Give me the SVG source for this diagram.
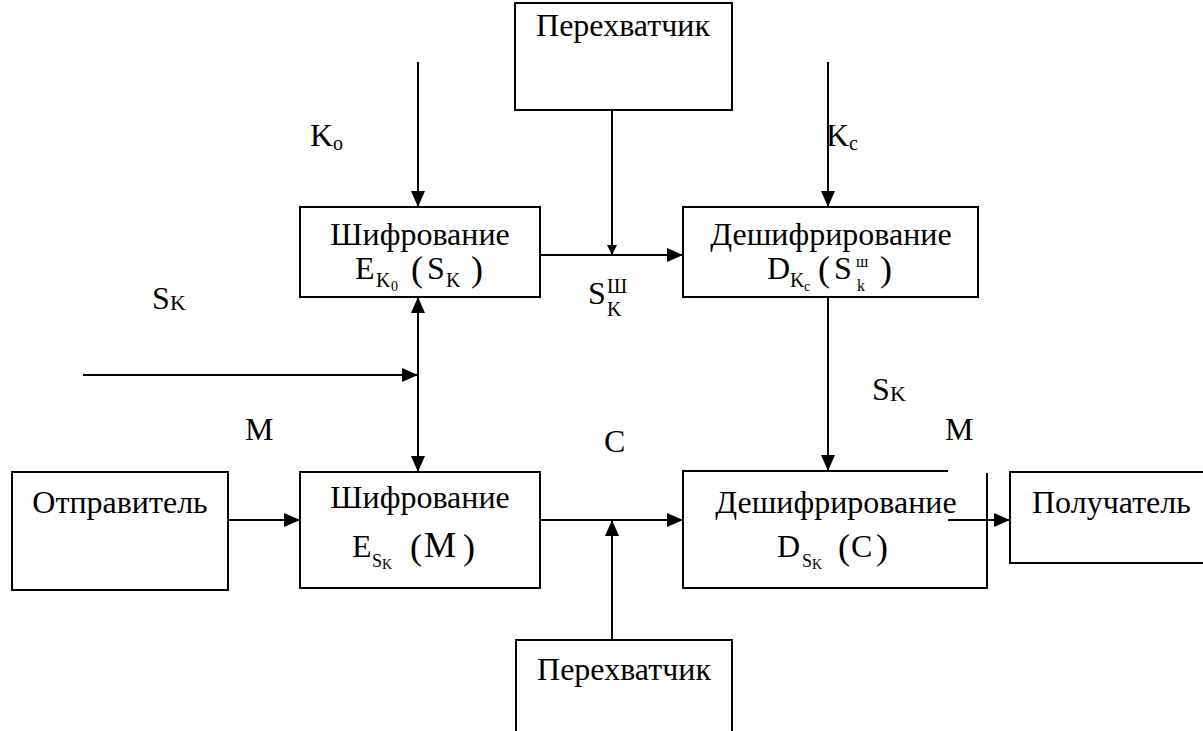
<svg xmlns="http://www.w3.org/2000/svg" width="1203" height="731" viewBox="0 0 1203 731" font-family="'Liberation Serif', serif">
<defs>
<marker id="ah" markerUnits="userSpaceOnUse" markerWidth="18" markerHeight="14" refX="16" refY="7" orient="auto">
<path d="M0,0 L16,7 L0,14 Z" fill="#000"/>
</marker>
<marker id="ahs" markerUnits="userSpaceOnUse" markerWidth="12" markerHeight="10" refX="10" refY="5" orient="auto">
<path d="M0,0 L10,5 L0,10 Z" fill="#000"/>
</marker>
<marker id="ahr" markerUnits="userSpaceOnUse" markerWidth="18" markerHeight="14" refX="0" refY="7" orient="auto">
<path d="M16,0 L0,7 L16,14 Z" fill="#000"/>
</marker>
</defs>
<style>
.b{fill:#fff;stroke:#000;stroke-width:2}
.o{fill:none;stroke:#000;stroke-width:2}
.c line{stroke:#000;stroke-width:2}
text{font-family:'Liberation Serif',serif;fill:#000}
.t{font-size:32px}
.m{text-anchor:middle}
.p{font-size:36px}
.s{font-size:20px}
.ss{font-size:14px}
.x{font-size:16px}
</style>
<rect width="1203" height="731" fill="#fff"/>

<g id="connectors" class="c">
<line x1="418" y1="62" x2="418" y2="207" marker-end="url(#ah)"/>
<line x1="828" y1="62" x2="828" y2="207" marker-end="url(#ah)"/>
<line x1="612" y1="110" x2="612" y2="255" marker-end="url(#ahs)"/>
<line x1="540" y1="255" x2="683" y2="255" marker-end="url(#ah)"/>
<line x1="83" y1="375" x2="418" y2="375" marker-end="url(#ah)"/>
<line x1="418" y1="297" x2="418" y2="472" marker-start="url(#ahr)" marker-end="url(#ah)"/>
<line x1="828" y1="297" x2="828" y2="471" marker-end="url(#ah)"/>
<line x1="228" y1="520" x2="300" y2="520" marker-end="url(#ah)"/>
<line x1="540" y1="520" x2="683" y2="520" marker-end="url(#ah)"/>
<line x1="612" y1="640" x2="612" y2="520" marker-end="url(#ah)"/>
<line x1="948" y1="520" x2="1010" y2="520" marker-end="url(#ah)"/>
</g>

<g id="interceptor-top">
<rect class="b" x="515" y="3" width="217" height="107"/>
<text class="t m" x="623" y="36">Перехватчик</text>
</g>

<g id="encrypt-key">
<rect class="b" x="300" y="207" width="240" height="90"/>
<text class="t m" x="420" y="245">Шифрование</text>
<text class="t" x="355" y="279">E</text>
<text class="s" x="376" y="287">K</text>
<text class="ss" x="391" y="291">0</text>
<text class="p" x="411" y="281">(</text>
<text class="t" x="427" y="279">S</text>
<text class="s" x="446" y="287">K</text>
<text class="p" x="471" y="281">)</text>
</g>

<g id="decrypt-key">
<rect class="b" x="683" y="207" width="295" height="90"/>
<text class="t m" x="831" y="245">Дешифрирование</text>
<text class="t" x="767" y="279">D</text>
<text class="s" x="790" y="287">K</text>
<text class="ss" x="804" y="291">c</text>
<text class="p" x="818" y="281">(</text>
<text class="t" x="834" y="279">S</text>
<text class="x" x="856" y="267">ш</text>
<text class="x" x="857" y="291">k</text>
<text class="p" x="880" y="281">)</text>
</g>

<g id="sender">
<rect class="b" x="12" y="472" width="216" height="118"/>
<text class="t m" x="120" y="513">Отправитель</text>
</g>

<g id="encrypt-msg">
<rect class="b" x="300" y="472" width="240" height="116"/>
<text class="t m" x="420" y="508">Шифрование</text>
<text class="t" x="352" y="557">E</text>
<text style="font-size:18px" x="372" y="567">S</text>
<text class="ss" x="382" y="569">K</text>
<text class="p" x="410" y="559">(</text>
<text class="p" x="424" y="557">M</text>
<text class="p" x="463" y="559">)</text>
</g>

<g id="decrypt-msg">
<path class="o" d="M948,471 H683 V588 H987 V473"/>
<text class="t m" x="836" y="513">Дешифрирование</text>
<text class="t" x="777" y="557">D</text>
<text style="font-size:18px" x="802" y="567">S</text>
<text class="ss" x="812" y="569">K</text>
<text class="p" x="838" y="559">(</text>
<text class="t" x="851" y="557">C</text>
<text class="p" x="876" y="559">)</text>
</g>

<g id="receiver">
<rect class="b" x="1010" y="472" width="200" height="91"/>
<text class="t" x="1032" y="513">Получатель</text>
</g>

<g id="interceptor-bottom">
<path class="b" d="M516,735 V640 H732 V735"/>
<text class="t m" x="624" y="680">Перехватчик</text>
</g>

<g id="labels">
<text class="t" x="310" y="146">K</text>
<text class="s" x="333" y="150">o</text>
<text class="t" x="826" y="146">K</text>
<text class="s" x="849" y="150">c</text>
<text class="t" x="152" y="309">S</text>
<text style="font-size:22px" x="170" y="310">K</text>
<text class="t" x="588" y="304">S</text>
<text class="s" x="607" y="293">Ш</text>
<text class="s" x="607" y="316">K</text>
<text class="t" x="872" y="400">S</text>
<text style="font-size:22px" x="890" y="401">K</text>
<text class="t" x="245" y="440">M</text>
<text class="t" x="945" y="440">M</text>
<text class="t" x="604" y="452">C</text>
</g>
</svg>
